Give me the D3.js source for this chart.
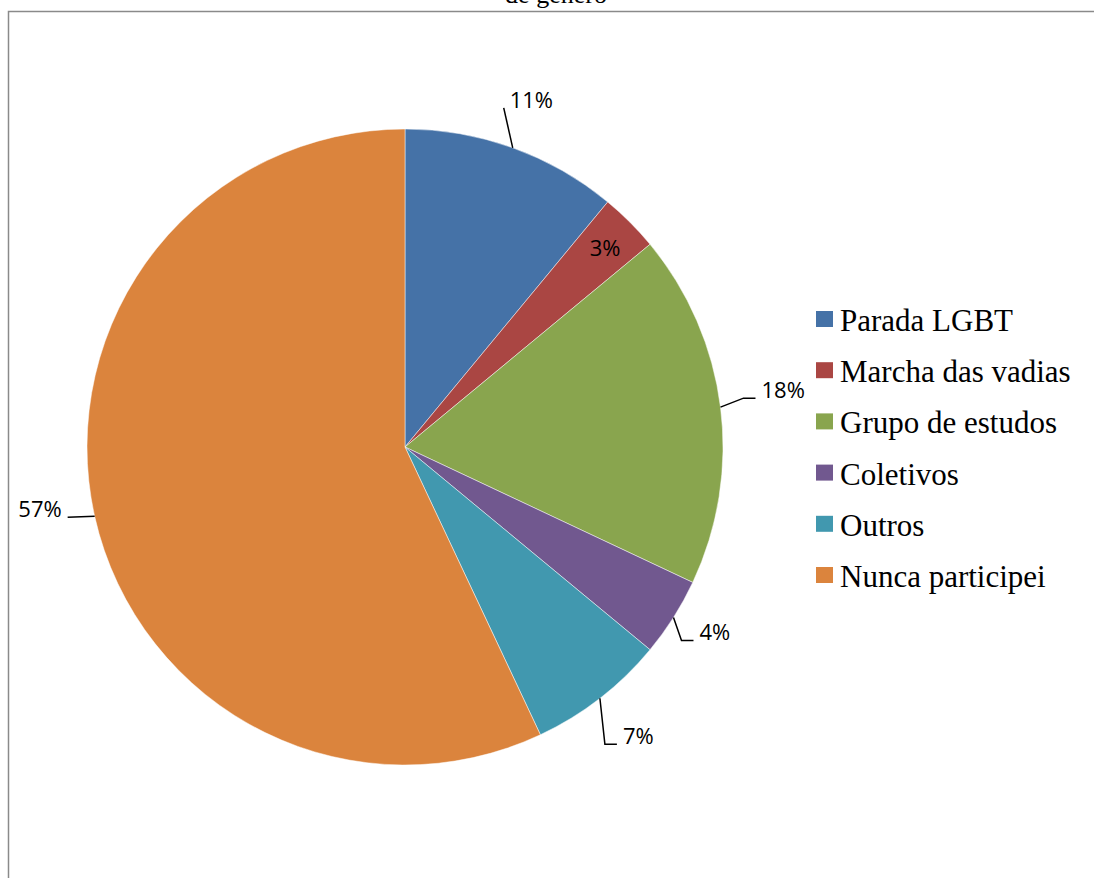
<!DOCTYPE html>
<html>
<head>
<meta charset="utf-8">
<script src="https://cdn.jsdelivr.net/npm/d3@7"></script>
<style>
  html, body { margin: 0; padding: 0; background: #fff; }
  svg { display: block; }
</style>
</head>
<body>
<svg id="chart" width="1094" height="878"></svg>
<script>
// Participation in gender-related movements (percent of respondents)
const categories = ["Parada LGBT", "Marcha das vadias", "Grupo de estudos", "Coletivos", "Outros", "Nunca participei"];
const values = [11, 3, 18, 4, 7, 57];
const labels = ["11%", "3%", "18%", "4%", "7%", "57%"];
const colors = ["#4572A7", "#AA4643", "#89A54E", "#71588F", "#4198AF", "#DB843D"];
const titleTail = "de gênero";

// Layout
const W = 1094, H = 878;
const cx = 405, cy = 447, R = 318;
// Label placement per slice: "inside" or an offset of the text anchor from the slice's outer mid point
const labelLayout = [
  { mode: "out", dx: -3,  dy: -40, anchor: "start", elbow: false },
  { mode: "in",  rf: 0.89 },
  { mode: "out", dx: 41,  dy: -9,  anchor: "start", elbow: true },
  { mode: "out", dx: 26,  dy: 23,  anchor: "start", elbow: true },
  { mode: "out", dx: 23,  dy: 46,  anchor: "start", elbow: true },
  { mode: "out", dx: -33, dy: 1,   anchor: "end",   elbow: false }
];

const svg = d3.select("#chart");

// Chart frame (only top and left edges fall inside the view)
svg.append("path")
  .attr("d", `M8.5,${H + 2} V11.5 H${W + 2}`)
  .attr("fill", "none")
  .attr("stroke", "#8a8a8a")
  .attr("stroke-width", 1.5);

// Last line of the title
svg.append("text")
  .attr("x", 556).attr("y", 3)
  .attr("text-anchor", "middle")
  .attr("font-family", "'Liberation Serif', 'Times New Roman', serif")
  .attr("font-size", 26)
  .attr("fill", "#000")
  .text(titleTail);

const color = d3.scaleOrdinal().domain(categories).range(colors);

const pie = d3.pie().sort(null).value(d => d.value);
const data = categories.map((c, i) => ({ name: c, value: values[i], label: labels[i], layout: labelLayout[i] }));
const arcs = pie(data);
const arc = d3.arc().innerRadius(0).outerRadius(R);

const g = svg.append("g").attr("transform", `translate(${cx},${cy})`);

g.selectAll("path.slice")
  .data(arcs)
  .join("path")
  .attr("class", "slice")
  .attr("d", arc)
  .attr("fill", d => color(d.data.name))
  .attr("stroke", "#fff")
  .attr("stroke-width", 0.8)
  .attr("stroke-opacity", 0.6);

// Data labels with leader lines
const labelFont = "'Open Sans', 'Liberation Sans', sans-serif";
arcs.forEach(a => {
  const mid = (a.startAngle + a.endAngle) / 2;
  const L = a.data.layout;
  if (L.mode === "in") {
    const r = R * L.rf;
    g.append("text")
      .attr("x", r * Math.sin(mid))
      .attr("y", -r * Math.cos(mid))
      .attr("text-anchor", "middle")
      .attr("dominant-baseline", "central")
      .attr("font-family", labelFont)
      .attr("font-size", 22)
      .attr("fill", "#000")
      .text(a.data.label);
    return;
  }
  const ex = R * Math.sin(mid), ey = -R * Math.cos(mid);
  const tx = ex + L.dx, ty = ey + L.dy;
  let pts;
  if (L.anchor === "start") {
    pts = L.elbow ? [[ex, ey], [tx - 18, ty], [tx - 6, ty]] : [[ex, ey], [tx - 6, ty]];
  } else {
    pts = [[ex, ey], [tx + 6, ty]];
  }
  g.append("path")
    .attr("d", d3.line()(pts))
    .attr("fill", "none")
    .attr("stroke", "#000")
    .attr("stroke-width", 1.5);
  g.append("text")
    .attr("x", tx).attr("y", ty)
    .attr("text-anchor", L.anchor)
    .attr("font-family", labelFont)
    .attr("font-size", 22)
    .attr("fill", "#000")
    .text(a.data.label);
});

// Legend
const legendX = 816, legendY = 311, legendStep = 51.2;
const legend = svg.append("g").attr("transform", `translate(${legendX},${legendY})`);
const item = legend.selectAll("g")
  .data(categories)
  .join("g")
  .attr("transform", (d, i) => `translate(0,${i * legendStep})`);
item.append("rect")
  .attr("width", 17).attr("height", 16)
  .attr("fill", d => color(d));
item.append("text")
  .attr("x", 24).attr("y", 20)
  .attr("font-family", "'Liberation Serif', 'Times New Roman', serif")
  .attr("font-size", 31)
  .attr("fill", "#000")
  .text(d => d);
</script>
</body>
</html>
